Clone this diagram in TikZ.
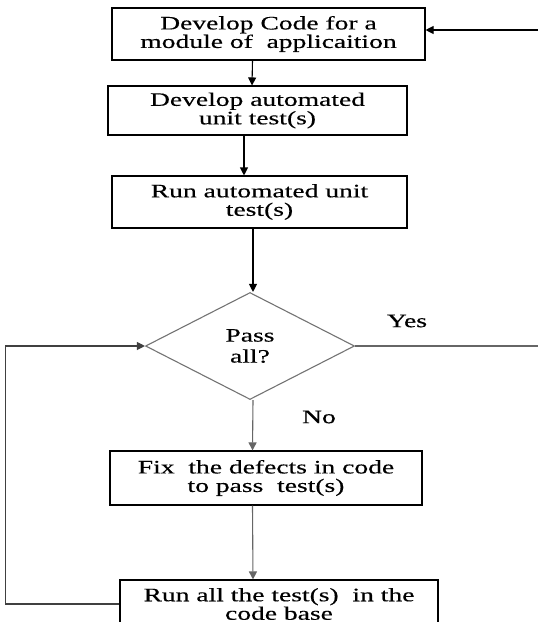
\documentclass[tikz,border=0pt]{standalone}
\usepackage{fontspec}
\setmainfont{Liberation Serif}[FakeStretch=1.45, FakeBold=0.4]
\usetikzlibrary{arrows.meta,shapes.geometric}
\tikzset{
	box/.style={draw, line width=1.1pt, align=center, inner sep=0pt, font=\fontsize{19}{18.5}\selectfont},
	decision/.style={diamond, draw=black!55, line width=1.1pt, align=center, inner sep=0pt, minimum width=209pt, minimum height=107pt, font=\fontsize{19}{21}\selectfont},
	arr/.style={-{Triangle[length=8pt,width=8pt]}, line width=1.1pt},
	greyarr/.style={arr, draw=black!60},
	lbl/.style={font=\fontsize{19}{21}\selectfont}
}

\begin{document}
\begin{tikzpicture}[x=1pt, y=-1pt]
		%%%%% START %%%%%
		\useasboundingbox (0, 0) rectangle (538, 622);
		
		\node[box, minimum width=313pt, minimum height=52pt] (code) at (268.5, 34) {Develop Code for a\\module of\ \ applicaition};
		\node[box, minimum width=299pt, minimum height=49pt] (unit) at (257.5, 110.5) {Develop automated\\unit test(s)};
		\node[box, minimum width=295pt, minimum height=52pt] (run) at (259.5, 202) {Run automated unit\\test(s)};
		
		\node[decision] (pass) at (250, 346) {Pass\\all?};
		\node[lbl] (yes) at (407, 321) {Yes};
		\node[lbl] (no) at (319, 417) {No};
		
		\node[box, minimum width=312pt, minimum height=54pt] (fix) at (266, 478) {Fix\ \ the defects in code\\to pass\ \ test(s)};
		\node[box, minimum width=318pt, minimum height=48pt] (all) at (279, 604) {Run all the test(s)\ \ in the\\code base};
		
		\coordinate (back) at (538, 30);
		\coordinate (out) at (538, 346);
		
		% straight down the chain
		\draw[arr] ([xshift=-16pt]code.south) -- ([xshift=-5.5pt]unit.north);
		\draw[arr] ([xshift=-13.5pt]unit.south) -- ([xshift=-15.5pt]run.north);
		\draw[arr] ([xshift=-6.5pt]run.south) -- ([xshift=3pt]pass.north);
		\draw[greyarr] ([xshift=3pt]pass.south) -- ([xshift=-13.5pt]fix.north);
		\draw[greyarr] ([xshift=-13.5pt]fix.south) -- ([xshift=-26pt]all.north);
		
		% loops
		\draw[arr, draw=black!75] (all.west) -- ++(-114, 0) |- (pass.west);
		\draw[line width=1.1pt, draw=black!60] (pass.east) -- (out);
		\draw[arr] (back) -- (back -| code.east);
		
		%%%%% END %%%%%
	\end{tikzpicture}
\end{document}
